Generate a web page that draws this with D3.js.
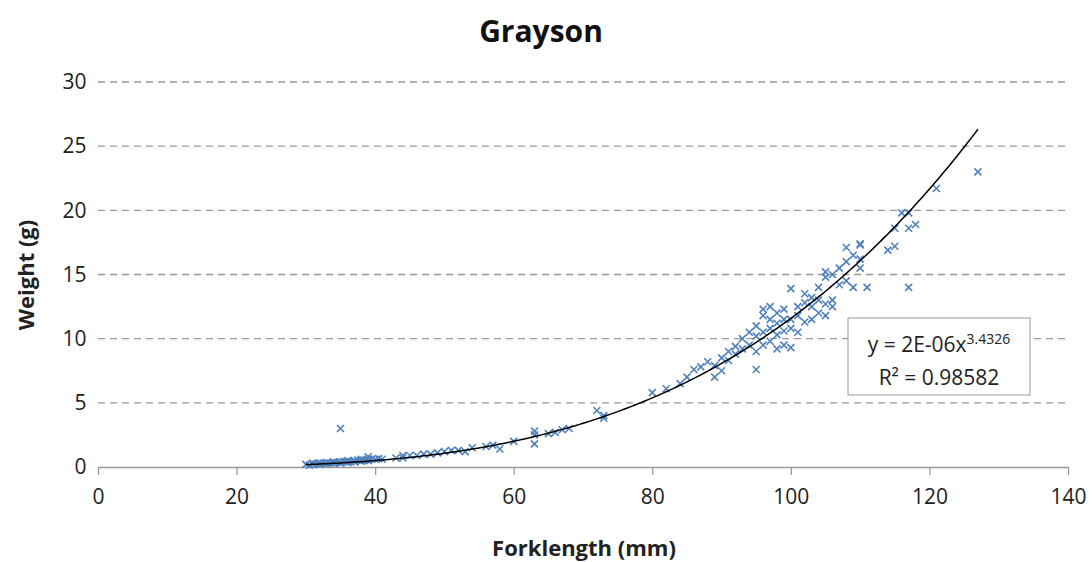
<!DOCTYPE html>
<html><head><meta charset="utf-8">
<script src="https://cdn.jsdelivr.net/npm/d3@7"></script>
<style>body{margin:0;background:#fff}text{font-family:"Open Sans",sans-serif}</style>
</head><body><svg id="c" width="1092" height="562"></svg>
<script>
const xTicks=[0,20,40,60,80,100,120,140];
const yTicks=[0,5,10,15,20,25,30];
const lenX=[30,30.5,31,31,31.5,32,32,32.5,33,33,33.5,34,34,34.5,35,35,35,35.5,36,36,36.5,37,37,37.5,38,38,38.5,39,39,39,39.5,40,40.5,
41,43,44,44,45,46,47,48,49,50,51,52,53,54,56,57,58,60,63,63,63,65,66,67,68,72,73,73,
80,82,84,85,86,87,88,89,89,90,90,91,91,92,92,93,93,94,94,95,95,95,95,96,96,96,96,97,97,97,97,98,98,98,98,99,99,99,99,100,100,100,100,
101,101,101,102,102,102,103,103,103,104,104,104,105,105,105,105,106,106,106,107,107,108,108,108,109,109,110,110,110,110,111,114,115,115,116,117,117,117,118,121,127];
const wtY=[0.2,0.15,0.3,0.2,0.25,0.3,0.2,0.3,0.35,0.25,0.3,0.4,0.3,0.35,3.0,0.4,0.3,0.45,0.5,0.35,0.4,0.5,0.4,0.55,0.6,0.45,0.5,0.8,0.6,0.5,0.6,0.6,0.65,
0.6,0.7,0.9,0.7,0.9,0.9,1.0,1.0,1.1,1.2,1.3,1.3,1.2,1.5,1.6,1.7,1.4,2.0,2.8,2.5,1.8,2.6,2.7,2.9,3.0,4.4,4.0,3.8,
5.8,6.1,6.5,7.0,7.6,7.8,8.2,7.9,7.0,7.5,8.5,9.0,8.3,9.4,8.8,9.2,10.0,9.5,10.5,7.6,9.0,10.2,11.0,9.5,10.5,11.8,12.3,9.8,10.8,11.5,12.5,9.2,10.3,11.2,12.0,9.5,10.6,11.5,12.3,9.3,10.8,11.5,13.9,
10.5,11.8,12.5,11.3,12.8,13.5,11.5,12.5,13.2,12.0,13.0,14.0,11.8,12.7,14.8,15.2,12.5,13.0,15.0,14.2,15.5,14.5,16.0,17.1,14.0,16.5,15.5,16.2,17.3,17.4,14.0,16.9,17.2,18.6,19.8,19.8,18.6,14.0,18.9,21.7,23.0];
const fitA=1.58e-6, fitB=3.4326;
const svg=d3.select("#c");
const x=d3.scaleLinear().domain([0,140]).range([98,1068]);
const y=d3.scaleLinear().domain([0,30]).range([467,82]);
svg.append("g").selectAll("line").data(yTicks.slice(1)).join("line")
 .attr("x1",98).attr("x2",1068).attr("y1",d=>y(d)).attr("y2",d=>y(d))
 .attr("stroke","#999").attr("stroke-width",1.3).attr("stroke-dasharray","7,5");
const xa=svg.append("g").attr("transform","translate(0,467)").call(d3.axisBottom(x).tickValues(xTicks).tickSize(8).tickSizeOuter(0));
xa.select(".domain").attr("stroke","#999").attr("stroke-width",1.3);
xa.selectAll("line").attr("stroke","#999").attr("stroke-width",1.3);
xa.selectAll("text").attr("font-size",21).attr("fill","#222").attr("dy","1.25em");
const ya=svg.append("g").attr("transform","translate(98,0)").call(d3.axisLeft(y).tickValues(yTicks).tickSize(0));
ya.select(".domain").remove();
ya.selectAll("text").attr("font-size",21).attr("fill","#222").attr("dx","-0.4em");
const pts=lenX.map((v,i)=>[v,wtY[i]]);
const s=3.5;
svg.append("g").selectAll("path").data(pts).join("path")
 .attr("d",d=>{const cx=x(d[0]),cy=y(d[1]);return `M${cx-s},${cy-s}L${cx+s},${cy+s}M${cx-s},${cy+s}L${cx+s},${cy-s}`;})
 .attr("stroke","#4f81bd").attr("stroke-width",1.6).attr("fill","none");
const fx=d3.range(30,127.01,0.5);
svg.append("path").datum(fx).attr("d",d3.line().x(d=>x(d)).y(d=>y(fitA*Math.pow(d,fitB))))
 .attr("fill","none").attr("stroke","#000").attr("stroke-width",1.5);
svg.append("rect").attr("x",848).attr("y",318).attr("width",182).attr("height",77).attr("fill","#fff").attr("stroke","#999");
const t1=svg.append("text").attr("x",939).attr("y",352).attr("text-anchor","middle").attr("font-size",21).attr("fill","#222");
t1.append("tspan").text("y = 2E-06x");
t1.append("tspan").text("3.4326").attr("font-size",14).attr("dy",-8);
svg.append("text").attr("x",939).attr("y",385).attr("text-anchor","middle").attr("font-size",21).attr("fill","#222").text("R² = 0.98582");
svg.append("text").attr("x",541).attr("y",42).attr("text-anchor","middle").attr("font-size",30).attr("font-weight","bold").attr("fill","#111").text("Grayson");
svg.append("text").attr("x",584).attr("y",556).attr("text-anchor","middle").attr("font-size",22).attr("font-weight","bold").attr("fill","#222").text("Forklength (mm)");
svg.append("text").attr("transform","translate(34,275) rotate(-90)").attr("text-anchor","middle").attr("font-size",22).attr("font-weight","bold").attr("fill","#222").text("Weight (g)");
</script></body></html>
